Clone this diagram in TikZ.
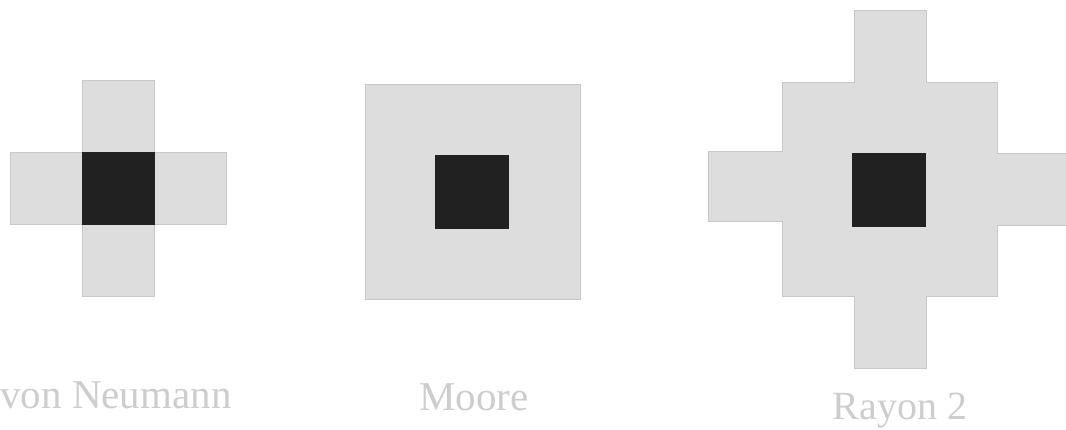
\documentclass[tikz,border=0pt]{standalone}
\usepackage{fontspec}
\setmainfont{Liberation Serif}
\definecolor{cellgray}{RGB}{221,221,221}
\definecolor{edgegray}{RGB}{200,200,200}
\definecolor{coreblack}{RGB}{33,33,33}
\definecolor{labelgray}{RGB}{205,205,205}
\begin{document}
\begin{tikzpicture}[x=1pt,y=-1pt,
  graycell/.style={rectangle,draw=edgegray,fill=cellgray,line width=1pt,inner sep=0pt,minimum width=#1,minimum height=#1},
  graycell/.default=72pt,
  corecell/.style={rectangle,fill=coreblack,inner sep=0pt,minimum size=73pt},
  lbl/.style={anchor=base,text=labelgray,font=\fontsize{41}{44}\selectfont}]
\useasboundingbox (0,0) rectangle (1066,430);
% von Neumann
\node[graycell] (vnT) at (118,117) {};
\node[graycell] (vnB) at (118,261) {};
\node[graycell] (vnL) at (46,189) {};
\node[graycell] (vnR) at (190,189) {};
\node[corecell] (vnC) at (118.5,189) {};
% Moore
\node[graycell=215pt] (mo) at (472.5,192.5) {};
\node[corecell,minimum size=74pt] (moC) at (471.5,192.5) {};
% Rayon 2
\filldraw[draw=edgegray,fill=cellgray,line width=1pt]
  (854,11) -- (926,11) -- (926,83) -- (997,83) -- (997,154) -- (1070,154)
  -- (1070,226) -- (997,226) -- (997,297) -- (926,297) -- (926,369) -- (854,369)
  -- (854,297) -- (782,297) -- (782,222) -- (708,222) -- (708,152) -- (782,152)
  -- (782,83) -- (854,83) -- cycle;
\node[corecell,minimum size=74pt] (raC) at (889,190) {};
% labels
\node[lbl] (vnL1) at (116,408) {von Neumann};
\node[lbl] (moL1) at (474,410) {Moore};
\node[lbl,font=\fontsize{40}{44}\selectfont] (raL1) at (900,419) {Rayon 2};
\end{tikzpicture}
\end{document}
